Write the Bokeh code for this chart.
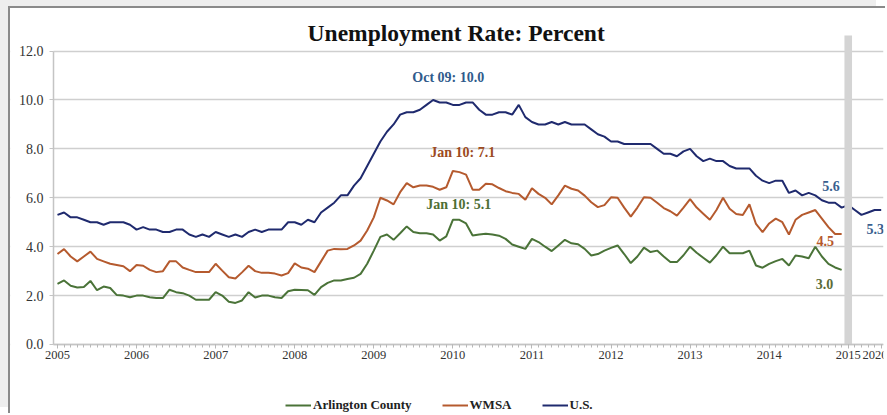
from bokeh.plotting import figure
from bokeh.models import (Range1d, FixedTicker, Label, Legend, LegendItem,
                          NumeralTickFormatter)
from bokeh.embed import file_html
from bokeh.resources import INLINE

# ---------------- data (monthly, Jan 2005 = month 0) ----------------
year_ticks = [0, 12, 24, 36, 48, 60, 72, 84, 96, 108, 120, 125]
year_labels = ["2005", "2006", "2007", "2008", "2009", "2010", "2011",
               "2012", "2013", "2014", "2015", "2020"]
y_ticks = [0, 2, 4, 6, 8, 10, 12]

us = [
    5.3, 5.4, 5.2, 5.2, 5.1, 5.0, 5.0, 4.9, 5.0, 5.0, 5.0, 4.9,
    4.7, 4.8, 4.7, 4.7, 4.6, 4.6, 4.7, 4.7, 4.5, 4.4, 4.5, 4.4,
    4.6, 4.5, 4.4, 4.5, 4.4, 4.6, 4.7, 4.6, 4.7, 4.7, 4.7, 5.0,
    5.0, 4.9, 5.1, 5.0, 5.4, 5.6, 5.8, 6.1, 6.1, 6.5, 6.8, 7.3,
    7.8, 8.3, 8.7, 9.0, 9.4, 9.5, 9.5, 9.6, 9.8, 10.0, 9.9, 9.9,
    9.8, 9.8, 9.9, 9.9, 9.6, 9.4, 9.4, 9.5, 9.5, 9.4, 9.8, 9.3,
    9.1, 9.0, 9.0, 9.1, 9.0, 9.1, 9.0, 9.0, 9.0, 8.8, 8.6, 8.5,
    8.3, 8.3, 8.2, 8.2, 8.2, 8.2, 8.2, 8.0, 7.8, 7.8, 7.7, 7.9,
    8.0, 7.7, 7.5, 7.6, 7.5, 7.5, 7.3, 7.2, 7.2, 7.2, 6.9, 6.7,
    6.6, 6.7, 6.7, 6.2, 6.3, 6.1, 6.2, 6.1, 5.9, 5.8, 5.8, 5.6,
    5.7, 5.5, 5.3, 5.4, 5.5, 5.5,
]

wmsa = [
    3.7, 3.9, 3.6, 3.4, 3.6, 3.8, 3.5, 3.4, 3.3, 3.25, 3.2, 3.0,
    3.25, 3.22, 3.05, 2.96, 3.0, 3.4, 3.4, 3.15, 3.05, 2.96, 2.96, 2.96,
    3.3, 3.02, 2.75, 2.7, 2.95, 3.22, 3.0, 2.93, 2.93, 2.9, 2.82, 2.92,
    3.32, 3.15, 3.1, 2.96, 3.4, 3.84, 3.91, 3.9, 3.91, 4.05, 4.25, 4.66,
    5.2, 6.0, 5.89, 5.73, 6.23, 6.6, 6.43, 6.5, 6.5, 6.45, 6.33, 6.43,
    7.1, 7.05, 6.95, 6.33, 6.33, 6.57, 6.55, 6.4, 6.27, 6.2, 6.16, 5.92,
    6.39, 6.16, 6.0, 5.73, 6.1, 6.5, 6.37, 6.3, 6.09, 5.82, 5.62, 5.7,
    6.02, 6.0, 5.6, 5.23, 5.6, 6.02, 6.0, 5.8, 5.58, 5.45, 5.27, 5.6,
    5.95, 5.6, 5.35, 5.1, 5.5, 6.0, 5.55, 5.34, 5.3, 5.73, 4.93, 4.6,
    4.95, 5.15, 5.0, 4.5, 5.1, 5.3, 5.4, 5.5, 5.15, 4.8, 4.52, 4.52,
]

arlington = [
    2.48, 2.62, 2.4, 2.33, 2.35, 2.6, 2.22, 2.37, 2.31, 2.02, 2.0, 1.93,
    2.0, 2.0, 1.93, 1.9, 1.9, 2.24, 2.14, 2.1, 2.0, 1.83, 1.83, 1.83,
    2.14, 2.0, 1.75, 1.7, 1.8, 2.14, 1.92, 2.0, 2.0, 1.93, 1.9, 2.18,
    2.24, 2.23, 2.22, 2.03, 2.35, 2.52, 2.62, 2.62, 2.68, 2.73, 2.89, 3.3,
    3.84, 4.4, 4.5, 4.28, 4.55, 4.83, 4.6, 4.55, 4.55, 4.5, 4.25, 4.42,
    5.1, 5.1, 4.95, 4.46, 4.5, 4.53, 4.5, 4.45, 4.32, 4.09, 4.0, 3.91,
    4.32, 4.19, 4.0, 3.82, 4.05, 4.28, 4.14, 4.1, 3.91, 3.64, 3.7, 3.84,
    3.95, 4.05, 3.7, 3.33, 3.6, 3.96, 3.78, 3.84, 3.6, 3.37, 3.37, 3.65,
    4.0, 3.75, 3.55, 3.35, 3.65, 4.0, 3.73, 3.73, 3.73, 3.84, 3.23, 3.14,
    3.3, 3.41, 3.5, 3.23, 3.64, 3.6, 3.53, 4.0, 3.6, 3.3, 3.15, 3.05,
]

marker_month = [120]  # Jan 2015 divider

# annotations: (text, month, value, colour)
notes = [
    ("Oct 09: 10.0", 59.3, 10.93, "#2f5b8c"),
    ("Jan 10: 7.1", 61.5, 7.86, "#9c4a22"),
    ("Jan 10: 5.1", 60.9, 5.73, "#4e6e35"),
    ("5.6", 117.4, 6.5, "#3a5f8f"),
    ("5.3", 124.1, 4.73, "#3a5f8f"),
    ("4.5", 116.5, 4.25, "#b5582c"),
    ("3.0", 116.4, 2.48, "#5a6b38"),
]

SERIF = "Liberation Serif"
C_US = "#1f2a6e"
C_WMSA = "#b55a2e"
C_ARL = "#4a7338"

X0 = -7.13      # frame left (page x = 10)
X_AXIS = -0.6   # y-axis spine position
X1 = 125.35

p = figure(width=877, height=407, output_backend="svg", toolbar_location=None,
           x_range=Range1d(X0, X1), y_range=Range1d(-2.904, 13.742),
           min_border_left=0, min_border_right=4, min_border_top=0,
           min_border_bottom=0)
p.outline_line_color = None
p.background_fill_color = "white"
p.border_fill_color = "white"
p.styles = {"margin-left": "10px", "margin-top": "8px",
            "box-shadow": "-2px -2px 0 0 #8a8a8a, -11px -8px 0 0 #eeeeee"}

# grid
p.xgrid.grid_line_color = None
p.ygrid.ticker = FixedTicker(ticks=y_ticks)
p.ygrid.grid_line_color = "#cfcfcf"
p.ygrid.grid_line_width = 1.6

# mask the grid to the left of the y axis (tick-label area)
p.quad(left=[X0], right=[X_AXIS], bottom=[-0.3], top=[12.3],
       fill_color="white", line_color=None)

# y axis, drawn inside the frame at the left edge of the data area
p.yaxis.fixed_location = X_AXIS
p.yaxis.ticker = FixedTicker(ticks=y_ticks)
p.yaxis.formatter = NumeralTickFormatter(format="0.0")
p.yaxis.bounds = (0, 12)
p.yaxis.axis_line_color = "#c4c4c4"
p.yaxis.axis_line_width = 1.5
p.yaxis.major_tick_line_color = "#c4c4c4"
p.yaxis.major_tick_out = 4
p.yaxis.major_tick_in = 0
p.yaxis.minor_tick_line_color = None
p.yaxis.major_label_text_font = SERIF
p.yaxis.major_label_text_font_size = "14px"
p.yaxis.major_label_text_color = "#333333"
p.yaxis.major_label_standoff = 6

# x axis, drawn at y = 0 inside the frame
p.xaxis.fixed_location = 0
p.xaxis.bounds = (X_AXIS, X1)
p.xaxis.ticker = FixedTicker(ticks=year_ticks, minor_ticks=list(range(0, 126)))
p.xaxis.major_label_overrides = {t: l for t, l in zip(year_ticks, year_labels)}
p.xaxis.axis_line_color = "#c4c4c4"
p.xaxis.axis_line_width = 1.5
p.xaxis.major_tick_line_color = "#b8b8b8"
p.xaxis.major_tick_out = 4
p.xaxis.major_tick_in = 0
p.xaxis.minor_tick_line_color = "#b8b8b8"
p.xaxis.minor_tick_out = 3
p.xaxis.minor_tick_in = 0
p.xaxis.major_label_text_font = SERIF
p.xaxis.major_label_text_font_size = "12.5px"
p.xaxis.major_label_text_color = "#333333"
p.xaxis.major_label_standoff = 3

months_us = list(range(len(us)))
months_loc = list(range(len(wmsa)))

r_arl = p.line(months_loc, arlington, line_color=C_ARL, line_width=2)
r_wmsa = p.line(months_loc, wmsa, line_color=C_WMSA, line_width=2)
r_us = p.line(months_us, us, line_color=C_US, line_width=2)

p.vbar(x=marker_month, width=1.15, bottom=0, top=12.64, fill_color="#d4d4d4",
       line_color=None)

for txt, mx, vy, col in notes:
    p.add_layout(Label(x=mx, y=vy, text=txt, text_align="center",
                       text_baseline="middle", text_font=SERIF,
                       text_font_style="bold", text_font_size="14px",
                       text_color=col))

p.add_layout(Label(x=60.5, y=12.72, text="Unemployment Rate: Percent",
                   text_align="center", text_baseline="middle",
                   text_font=SERIF, text_font_style="bold",
                   text_font_size="23.5px", text_color="#111111"))

legend = Legend(items=[LegendItem(label="Arlington County", renderers=[r_arl]),
                       LegendItem(label="WMSA", renderers=[r_wmsa]),
                       LegendItem(label="U.S.", renderers=[r_us])],
                orientation="horizontal", location=(275, 2),
                label_text_font=SERIF, label_text_font_style="bold",
                label_text_font_size="13px", label_text_color="#222222",
                glyph_width=26, glyph_height=12, label_standoff=2,
                spacing=30, padding=2, margin=0,
                background_fill_alpha=0, border_line_color=None)
p.add_layout(legend, "center")

open("out.html", "w").write(file_html(p, INLINE))
